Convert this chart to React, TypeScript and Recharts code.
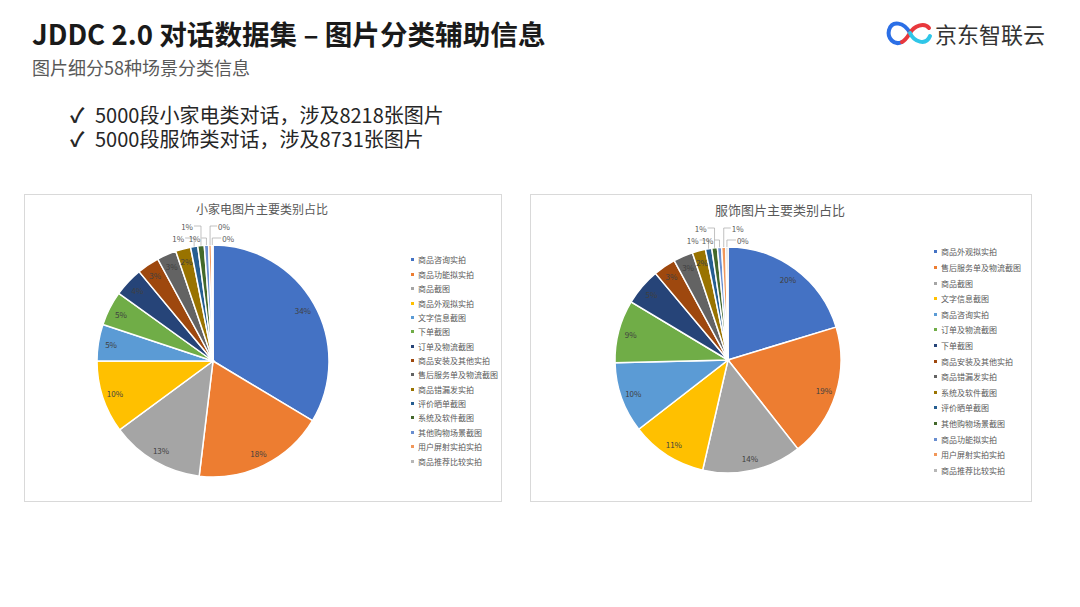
import React from 'react';
import { PieChart, Pie, Cell, Legend } from 'recharts';

// --- data ---
const PALETTE = [
    '#4472C4', '#ED7D31', '#A5A5A5', '#FFC000', '#5B9BD5',
    '#70AD47', '#264478', '#9E480E', '#636363', '#997300',
    '#255E91', '#43682B', '#698ED0', '#F1975A', '#B7B7B7',
];

const APPLIANCE_TITLE = '小家电图片主要类别占比';
const APPLIANCE_NAMES = [
    '商品咨询实拍', '商品功能拟实拍', '商品截图', '商品外观拟实拍', '文字信息截图',
    '下单截图', '订单及物流截图', '商品安装及其他实拍', '售后服务单及物流截图', '商品错漏发实拍',
    '评价晒单截图', '系统及软件截图', '其他购物场景截图', '用户屏射实拍实拍', '商品推荐比较实拍',
];
const APPLIANCE_VALUES = [33.6, 18.3, 13.0, 10.1, 5.1, 4.8, 4.1, 3.1, 2.7, 2.1, 1.0, 0.9, 0.6, 0.4, 0.2];

const APPAREL_TITLE = '服饰图片主要类别占比';
const APPAREL_NAMES = [
    '商品外观拟实拍', '售后服务单及物流截图', '商品截图', '文字信息截图', '商品咨询实拍',
    '订单及物流截图', '下单截图', '商品安装及其他实拍', '商品错漏发实拍', '系统及软件截图',
    '评价晒单截图', '其他购物场景截图', '商品功能拟实拍', '用户屏射实拍实拍', '商品推荐比较实拍',
];
const APPAREL_VALUES = [20.3, 19.1, 14.2, 10.9, 10.1, 9.0, 5.3, 3.2, 2.8, 1.9, 0.9, 0.8, 0.6, 0.6, 0.3];

const BULLETS = ['5000段小家电类对话，涉及8218张图片', '5000段服饰类对话，涉及8731张图片'];

const FONT = '"Noto Sans CJK SC", "Noto Sans", sans-serif';
const RAD = Math.PI / 180;

// label inside for big slices, outside with a leader line for tiny ones
const makeLabel = (values: number[]) => (p: any) => {
    const total = values.reduce((a, b) => a + b, 0);
    const pct = (values[p.index] / total) * 100;
    const text = `${Math.round(pct)}%`;
    const ang = -p.midAngle * RAD;
    if (pct >= 1.5) {
        const rr = p.outerRadius * 0.89;
        return (
            <text key={`l-${p.index}`} x={p.cx + rr * Math.cos(ang)} y={p.cy + rr * Math.sin(ang)}
                textAnchor="middle" dominantBaseline="central" fontSize={8} fill="#404040" fontFamily={FONT}>
                {text}
            </text>
        );
    }
    const k = values.slice(0, p.index).filter((v) => (v / total) * 100 < 1.5).length;
    const sx = p.cx + p.outerRadius * Math.cos(ang);
    const sy = p.cy + p.outerRadius * Math.sin(ang);
    const top = p.cy - p.outerRadius;
    const ly = k % 2 === 1 ? top - 19 : top - 7;
    const left = k < 3;
    const lx = left ? sx - 6 - (2 - k) * 2 : sx + 8 + (k - 3) * 2;
    return (
        <g key={`l-${p.index}`}>
            <polyline points={`${sx},${sy} ${sx},${ly} ${left ? lx + 1 : lx - 1},${ly}`} fill="none" stroke="#a6a6a6" strokeWidth={0.7} />
            <text x={lx} y={ly} textAnchor={left ? 'end' : 'start'} dominantBaseline="central"
                fontSize={8} fill="#595959" fontFamily={FONT}>
                {text}
            </text>
        </g>
    );
};

// legend drawn in data order (Recharts would sort it otherwise)
const makeLegend = (names: string[], spacing: number) => () => (
    <div style={{ fontFamily: FONT, fontSize: 8, color: '#595959' }}>
        {names.map((n, i) => (
            <div key={i} style={{ height: spacing, display: 'flex', alignItems: 'center', whiteSpace: 'nowrap' }}>
                <span style={{ width: 3, height: 3, background: PALETTE[i % PALETTE.length], marginRight: 4, display: 'inline-block' }} />
                {n}
            </div>
        ))}
    </div>
);

function PiePanel(props: {
    title: string; names: string[]; values: number[];
    left: number; width: number; cx: number; cy: number; r: number;
    legendX: number; legendY: number; spacing: number; titleX: number; titleSize: number;
}) {
    const data = props.names.map((name, i) => ({ name, value: props.values[i] }));
    return (
        <div style={{ position: 'absolute', left: props.left, top: 194, width: props.width, height: 308, border: '1px solid #d9d9d9', boxSizing: 'border-box', background: '#fff' }}>
            <div style={{ position: 'absolute', left: props.titleX - 100, width: 200, top: 5, textAlign: 'center', fontFamily: FONT, fontSize: props.titleSize, color: '#595959' }}>
                {props.title}
            </div>
            <PieChart width={props.width - 2} height={306} margin={{ top: 0, right: 0, bottom: 0, left: 0 }}>
                <Pie data={data} dataKey="value" nameKey="name" cx={props.cx} cy={props.cy}
                    outerRadius={props.r} startAngle={90} endAngle={-270}
                    stroke="#fff" strokeWidth={1.5} label={makeLabel(props.values)} labelLine={false}
                    isAnimationActive={false}>
                    {data.map((_, i) => <Cell key={i} fill={PALETTE[i % PALETTE.length]} />)}
                </Pie>
                <Legend layout="vertical" content={makeLegend(props.names, props.spacing)}
                    wrapperStyle={{ left: props.legendX, top: props.legendY - props.spacing / 2, width: 100 }} />
            </PieChart>
        </div>
    );
}

export default function App() {
    return (
        <div style={{ position: 'absolute', left: 0, top: 0, width: 1080, height: 607, background: '#fff', fontFamily: FONT, overflow: 'hidden' }}>
            <div style={{ position: 'absolute', left: 32, top: 13, fontSize: 27.6, fontWeight: 700, color: '#1a1a1a', whiteSpace: 'nowrap' }}>
                JDDC 2.0 对话数据集 – 图片分类辅助信息
            </div>
            <div style={{ position: 'absolute', left: 32, top: 55, fontSize: 18, color: '#595959', whiteSpace: 'nowrap', lineHeight: '24px' }}>
                图片细分58种场景分类信息
            </div>
            {BULLETS.map((b, i) => (
                <div key={i} style={{ position: 'absolute', left: 70, top: 103 + i * 24, height: 24, fontSize: 20, color: '#262626', whiteSpace: 'nowrap', lineHeight: '24px' }}>
                    <span style={{ display: 'inline-block', width: 25, fontWeight: 700 }}>✓</span>{b}
                </div>
            ))}
            {/* logo */}
            <svg style={{ position: 'absolute', left: 884, top: 16 }} width={50} height={34}>
                <path d="M26 17 C20 6, 8 4, 5 14 C3 22, 10 30, 18 26" fill="none" stroke="#2b6fe6" strokeWidth={4} strokeLinecap="round" />
                <path d="M18 26 C22 24, 24 20, 26 17 C30 10, 40 6, 45 12" fill="none" stroke="#e8383d" strokeWidth={4} strokeLinecap="round" />
                <path d="M26 17 C30 26, 42 30, 46 20" fill="none" stroke="#2fc6e8" strokeWidth={4} strokeLinecap="round" />
            </svg>
            <div style={{ position: 'absolute', left: 935, top: 18, fontSize: 22, color: '#333', whiteSpace: 'nowrap', lineHeight: '30px' }}>
                京东智联云
            </div>
            <PiePanel title={APPLIANCE_TITLE} names={APPLIANCE_NAMES} values={APPLIANCE_VALUES}
                left={24} width={478} cx={188} cy={166} r={116}
                legendX={386} legendY={65} spacing={14.36} titleX={237} titleSize={12} />
            <PiePanel title={APPAREL_TITLE} names={APPAREL_NAMES} values={APPAREL_VALUES}
                left={530} width={502} cx={197} cy={165} r={113}
                legendX={403} legendY={57} spacing={15.6} titleX={249} titleSize={13} />
        </div>
    );
}
